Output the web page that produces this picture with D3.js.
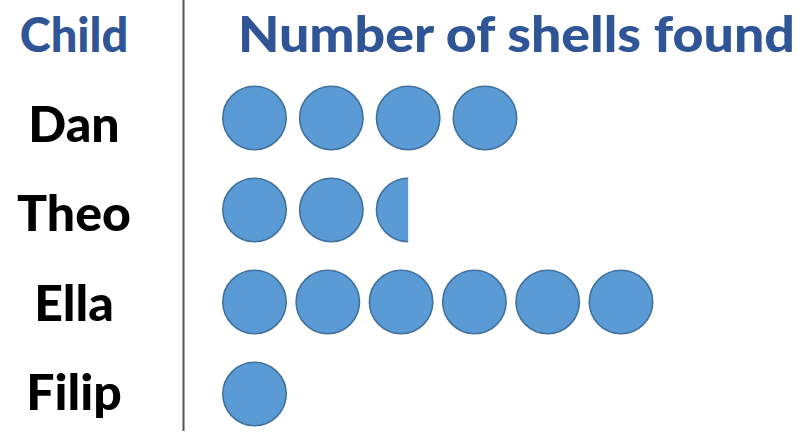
<!DOCTYPE html>
<html>
<head>
<meta charset="utf-8">
<script src="https://cdn.jsdelivr.net/npm/d3@7"></script>
<style>
  html, body { margin: 0; padding: 0; background: #ffffff; }
  svg { display: block; }
</style>
</head>
<body>
<svg id="chart" width="803" height="433"></svg>
<script>
// ---- data ----
const children = ["Dan", "Theo", "Ella", "Filip"];
const shellIcons = [4, 2.5, 6, 1];          // number of circle symbols per child
const headerLeft = "Child";
const headerRight = "Number of shells found";

// ---- layout / style ----
const W = 803, H = 433;
const R = 31.7;
const fill = "#5B9BD5", stroke = "#41719C";
const headerColor = "#2F5597";
const rowStepEnd = [485, 485, 621, 485];   // x of the 4th/6th symbol centre per row (row spacing)
const rowStepIdx = [3, 3, 5, 3];

const svg = d3.select("#chart");

// row scales
const yIcon = d3.scalePoint().domain(children).range([118, 394]);
const yLabel = d3.scalePoint().domain(children).range([142, 410]);

// headers
svg.append("text")
  .attr("x", 74).attr("y", 52)
  .attr("text-anchor", "middle")
  .attr("font-family", "Lato, 'DejaVu Sans', sans-serif")
  .attr("font-weight", 900)
  .attr("font-size", 47)
  .attr("fill", headerColor)
  .text(headerLeft);

svg.append("text")
  .attr("x", 238).attr("y", 52)
  .attr("text-anchor", "start")
  .attr("font-family", "Lato, 'DejaVu Sans', sans-serif")
  .attr("font-weight", 900)
  .attr("font-size", 50)
  .attr("fill", headerColor)
  .attr("textLength", 557).attr("lengthAdjust", "spacingAndGlyphs")
  .text(headerRight);

// divider
svg.append("line")
  .attr("x1", 183.5).attr("x2", 183.5)
  .attr("y1", 0).attr("y2", 431)
  .attr("stroke", "#555555").attr("stroke-width", 2);

// category labels
svg.selectAll("text.label")
  .data(children)
  .join("text")
  .attr("class", "label")
  .attr("x", 74)
  .attr("y", d => yLabel(d))
  .attr("text-anchor", "middle")
  .attr("font-family", "Lato, 'DejaVu Sans', sans-serif")
  .attr("font-weight", 900)
  .attr("font-size", 50)
  .attr("fill", "#000000")
  .text(d => d);

// icons
const defs = svg.append("defs");
children.forEach((c, ri) => {
  const n = shellIcons[ri];
  const x = d3.scaleLinear().domain([0, rowStepIdx[ri]]).range([254.5, rowStepEnd[ri]]);
  const cy = yIcon(c);
  const icons = d3.range(Math.ceil(n)).map(i => ({ i, frac: Math.min(1, n - i) }));
  const g = svg.append("g").attr("class", "row");
  icons.forEach(ic => {
    const cx = x(ic.i);
    let clip = null;
    if (ic.frac < 1) {
      const id = "clip-" + ri + "-" + ic.i;
      defs.append("clipPath").attr("id", id)
        .append("rect")
        .attr("x", cx - R - 2).attr("y", cy - R - 2)
        .attr("width", 2 + 2 * R * ic.frac).attr("height", 2 * R + 4);
      clip = "url(#" + id + ")";
    }
    g.append("circle")
      .attr("cx", cx).attr("cy", cy).attr("r", R)
      .attr("fill", fill)
      .attr("stroke", stroke).attr("stroke-width", 1.6)
      .attr("clip-path", clip);
  });
});
</script>
</body>
</html>
